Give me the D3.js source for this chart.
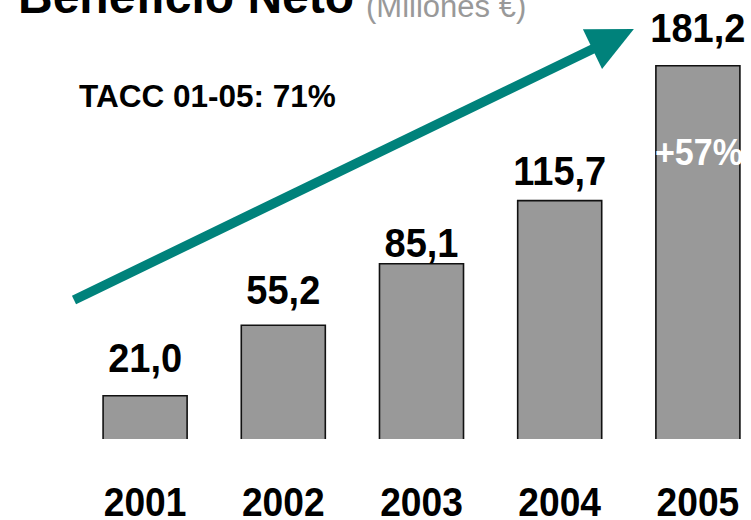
<!DOCTYPE html>
<html>
<head>
<meta charset="utf-8">
<script src="https://cdn.jsdelivr.net/npm/d3@7"></script>
<style>
  html, body { margin: 0; padding: 0; background: #fff; }
  svg { display: block; font-family: "Liberation Sans", Arial, Helvetica, sans-serif; }
</style>
</head>
<body>
<svg id="chart" width="751" height="520"></svg>
<script>
// Beneficio neto por año (millones de euros)
const years = ["2001", "2002", "2003", "2004", "2005"];
const values = [21.0, 55.2, 85.1, 115.7, 181.2];
const valueLabels = ["21,0", "55,2", "85,1", "115,7", "181,2"];
const titleText = "Beneficio Neto";
const unitText = "(Millones €)";
const cagrText = "TACC 01-05: 71%";
const growthText = "+57%";

const W = 751, H = 520;
const svg = d3.select("#chart");

const x = d3.scaleBand()
  .domain(years)
  .range([76, 767])
  .paddingInner(0.392)
  .paddingOuter(0.196);

const y = d3.scaleLinear()
  .domain([0, 200])
  .range([439, 27]);

const teal = "#00827b";
const barFill = "#999999";

// Bars: grey fill, dark outline on left, top and right
const bars = svg.append("g");
bars.selectAll("rect")
  .data(values)
  .join("rect")
  .attr("x", (d, i) => x(years[i]))
  .attr("y", d => y(d))
  .attr("width", x.bandwidth())
  .attr("height", d => y(0) - y(d))
  .attr("fill", barFill);

bars.selectAll("path")
  .data(values)
  .join("path")
  .attr("d", (d, i) => {
    const x0 = x(years[i]), x1 = x0 + x.bandwidth();
    return `M${x0},${y(0)}V${y(d)}H${x1}V${y(0)}`;
  })
  .attr("fill", "none")
  .attr("stroke", "#111")
  .attr("stroke-width", 1.6);

// Value labels above the bars (slightly narrowed glyphs)
const labelGap = [24, 21, 7, 16, 24];
svg.append("g").selectAll("text")
  .data(values)
  .join("text")
  .attr("transform", (d, i) =>
    `translate(${x(years[i]) + x.bandwidth() / 2},${y(d) - labelGap[i]}) scale(0.95,1)`)
  .attr("text-anchor", "middle")
  .attr("font-size", 40)
  .attr("font-weight", "bold")
  .attr("fill", "#000")
  .text((d, i) => valueLabels[i]);

// Year axis labels
const axis = svg.append("g")
  .attr("transform", `translate(0,${y(0)})`)
  .call(d3.axisBottom(x).tickSize(0).tickPadding(0));
axis.select(".domain").remove();
axis.selectAll("text")
  .attr("dy", 0)
  .attr("y", 0)
  .attr("transform", "translate(0,77) scale(0.93,1)")
  .attr("font-size", 40)
  .attr("font-weight", "bold")
  .attr("font-family", "'Liberation Sans', Arial, sans-serif")
  .attr("fill", "#000");

// Growth on the last bar
const last = years[years.length - 1];
svg.append("text")
  .attr("transform", `translate(${x(last) + x.bandwidth() / 2 + 1},165) scale(0.92,1)`)
  .attr("text-anchor", "middle")
  .attr("font-size", 37)
  .attr("font-weight", "bold")
  .attr("fill", "#fff")
  .text(growthText);

// Trend arrow across the bars
const ax0 = x.range()[0] - 2, ay0 = y(67.5);
const ax1 = x(last) - 22, ay1 = y(199);
const ang = Math.atan2(ay1 - ay0, ax1 - ax0);
const headLen = 46, headHalf = 22, shaft = 9.5;
const bx = ax1 - headLen * Math.cos(ang), by = ay1 - headLen * Math.sin(ang);
const px = -Math.sin(ang), py = Math.cos(ang);
svg.append("line")
  .attr("x1", ax0).attr("y1", ay0)
  .attr("x2", bx + 2 * Math.cos(ang)).attr("y2", by + 2 * Math.sin(ang))
  .attr("stroke", teal)
  .attr("stroke-width", shaft);
svg.append("path")
  .attr("d", `M${ax1},${ay1}L${bx + px * headHalf},${by + py * headHalf}L${bx - px * headHalf},${by - py * headHalf}Z`)
  .attr("fill", teal);

// CAGR annotation
svg.append("text")
  .attr("x", 79)
  .attr("y", 107)
  .attr("font-size", 31.5)
  .attr("font-weight", "bold")
  .attr("fill", "#000")
  .text(cagrText);

// Title
const title = svg.append("text")
  .attr("x", 18)
  .attr("y", 13);
title.append("tspan")
  .attr("font-size", 48)
  .attr("font-weight", "bold")
  .attr("fill", "#000")
  .text(titleText);
title.append("tspan")
  .attr("dx", 12)
  .attr("dy", 4)
  .attr("font-size", 31)
  .attr("fill", "#999")
  .text(unitText);
</script>
</body>
</html>
